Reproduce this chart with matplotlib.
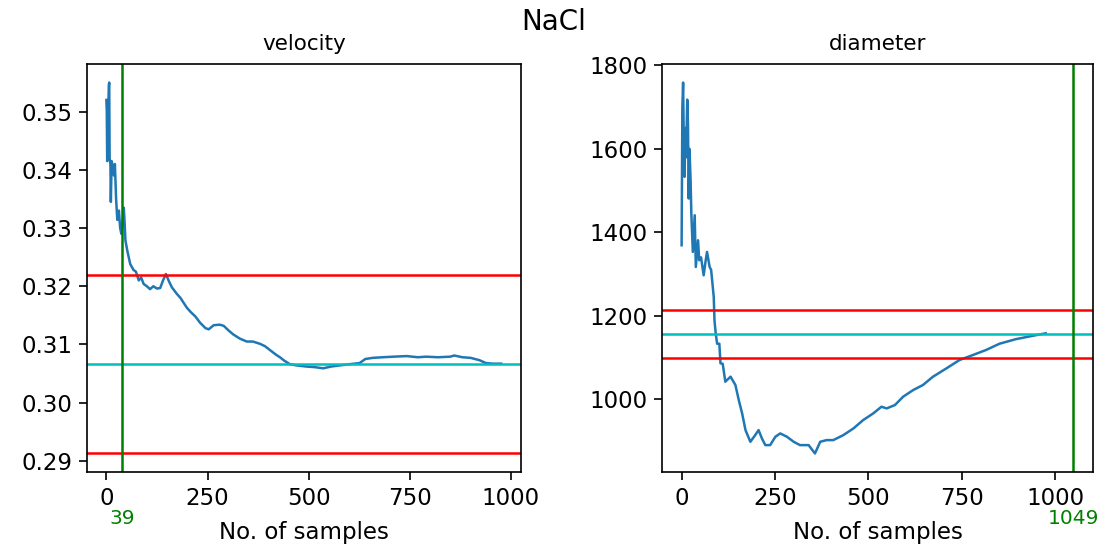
import matplotlib
matplotlib.use("Agg")
import matplotlib.pyplot as plt
import numpy as np

# running mean of velocity
vel_x = [0, 1, 2, 4, 6, 7, 8, 10, 11, 13, 16, 19, 21, 24, 27, 31, 34, 37, 40, 43,
         45, 47, 52, 59, 67, 73, 80, 86, 92, 100, 108, 116, 125, 133, 140, 147, 155,
         162, 174, 183, 199, 208, 220, 232, 245, 253, 265, 280, 290, 302, 314, 330,
         347, 362, 380, 392, 405, 420, 429, 440, 454, 470, 495, 515, 536, 555, 577,
         600, 626, 640, 659, 683, 710, 742, 770, 790, 820, 850, 860, 880, 900, 922,
         938, 955, 976]
vel_y = [0.3520, 0.3500, 0.3415, 0.3480, 0.3545, 0.3550, 0.3420, 0.3410, 0.3345,
         0.3415, 0.3405, 0.3390, 0.3410, 0.3350, 0.3314, 0.3330, 0.3300, 0.3290,
         0.3310, 0.3335, 0.3310, 0.3279, 0.3260, 0.3238, 0.3228, 0.3225, 0.3210,
         0.3215, 0.3204, 0.3200, 0.3195, 0.3200, 0.3196, 0.3197, 0.3210, 0.3221,
         0.3208, 0.3198, 0.3187, 0.3180, 0.3163, 0.3156, 0.3148, 0.3137, 0.3128,
         0.3126, 0.3133, 0.3134, 0.3132, 0.3124, 0.3117, 0.3110, 0.3105, 0.3105,
         0.3101, 0.3097, 0.3090, 0.3082, 0.3078, 0.3072, 0.3066, 0.3064, 0.3062,
         0.3061, 0.3059, 0.3062, 0.3064, 0.3066, 0.3068, 0.3075, 0.3077, 0.3078,
         0.3079, 0.3080, 0.3078, 0.3079, 0.3078, 0.3079, 0.3081, 0.3078, 0.3077,
         0.3073, 0.3068, 0.3067, 0.3067]
vel_mean = 0.3066
vel_n = 39

# running mean of diameter
dia_x = [0, 2, 4, 6, 8, 10, 12, 15, 17, 19, 21, 24, 26, 30, 35, 38, 44, 47, 52, 59,
         64, 68, 75, 79, 86, 88, 91, 95, 101, 104, 110, 117, 131, 144, 153, 162, 171,
         184, 197, 206, 215, 224, 237, 251, 264, 282, 300, 317, 340, 357, 371, 388,
         406, 433, 460, 486, 513, 535, 549, 571, 593, 620, 646, 673, 709, 744, 780,
         815, 851, 895, 940, 975]
dia_y = [1369, 1700, 1759, 1600, 1533, 1650, 1580, 1718, 1660, 1481, 1600, 1525,
         1445, 1353, 1441, 1317, 1381, 1333, 1340, 1297, 1330, 1353, 1317, 1310,
         1245, 1189, 1160, 1133, 1133, 1086, 1085, 1042, 1054, 1034, 998, 966, 926,
         898, 914, 926, 906, 890, 890, 910, 918, 910, 898, 890, 890, 870, 898, 902,
         902, 914, 930, 950, 966, 982, 978, 986, 1006, 1022, 1034, 1054, 1074, 1094,
         1106, 1118, 1133, 1144, 1152, 1158]
dia_mean = 1157
dia_n = 1049

fig = plt.figure(figsize=(11.08, 5.54), dpi=100)
ax1 = fig.add_axes([0.0782, 0.148, 0.392, 0.7365])
ax2 = fig.add_axes([0.5975, 0.148, 0.389, 0.7365])

for ax, x, y, m, n, name in [(ax1, vel_x, vel_y, vel_mean, vel_n, "velocity"),
                             (ax2, dia_x, dia_y, dia_mean, dia_n, "diameter")]:
    ax.plot(x, y, color="C0", lw=1.8)
    ax.axhline(m * 1.05, color="r", lw=1.8)
    ax.axhline(m * 0.95, color="r", lw=1.8)
    ax.axhline(m, color="c", lw=1.8)
    ax.axvline(n, color="g", lw=1.8)
    ax.set_title(name, fontsize=15.5, pad=10)
    ax.set_xlabel("No. of samples", fontsize=16.5, labelpad=8)
    ax.tick_params(labelsize=16.5, length=5.5, width=1.2, pad=5)
    for s in ax.spines.values():
        s.set_linewidth(1.2)
    ax.text(n, -0.115, str(n), color="g", fontsize=14.5, ha="center", va="center",
            transform=ax.get_xaxis_transform())

ax1.set_xticks([0, 250, 500, 750, 1000])
ax2.set_xticks([0, 250, 500, 750, 1000])
fig.suptitle("NaCl", fontsize=20, y=0.96, va="center")

fig.savefig("out.png", dpi=100)
